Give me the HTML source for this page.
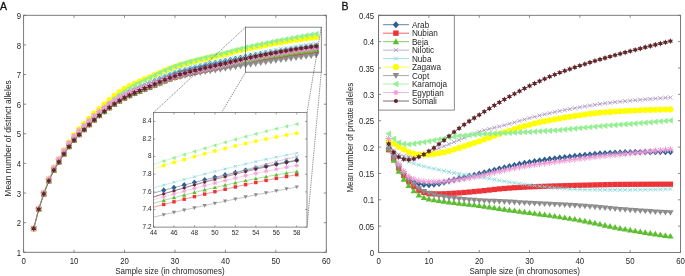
<!DOCTYPE html>
<html><head><meta charset="utf-8"><title>Allele rarefaction</title>
<style>html,body{margin:0;padding:0;background:#fff;}body{width:685px;height:276px;overflow:hidden;font-family:"Liberation Sans",sans-serif;}svg{display:block;will-change:transform;}</style>
</head><body>
<svg width="685" height="276" viewBox="0 0 685 276" font-family="Liberation Sans, sans-serif"><defs><clipPath id="clipI"><rect x="153.5" y="108.6" width="153.5" height="122.5"/></clipPath><marker id="aArab" markerUnits="userSpaceOnUse" markerWidth="20" markerHeight="20" refX="0" refY="0" viewBox="-10 -10 20 20" overflow="visible"><path d="M0,-3.46 L3.04,0 L0,3.46 L-3.04,0Z" fill="#2d5f8f"/></marker>
<marker id="aNubian" markerUnits="userSpaceOnUse" markerWidth="20" markerHeight="20" refX="0" refY="0" viewBox="-10 -10 20 20" overflow="visible"><rect x="-2.62" y="-2.62" width="5.25" height="5.25" fill="#ec3338"/></marker>
<marker id="aBeja" markerUnits="userSpaceOnUse" markerWidth="20" markerHeight="20" refX="0" refY="0" viewBox="-10 -10 20 20" overflow="visible"><path d="M0,-3.2 L3.2,2.4 L-3.2,2.4Z" fill="#5bbd2f"/></marker>
<marker id="aNilotic" markerUnits="userSpaceOnUse" markerWidth="20" markerHeight="20" refX="0" refY="0" viewBox="-10 -10 20 20" overflow="visible"><path d="M-1.98,-1.98 L1.98,1.98 M-1.98,1.98 L1.98,-1.98" stroke="#a992bd" stroke-width="0.83"/></marker>
<marker id="aNuba" markerUnits="userSpaceOnUse" markerWidth="20" markerHeight="20" refX="0" refY="0" viewBox="-10 -10 20 20" overflow="visible"><path d="M-1.98,-1.98 L1.98,1.98 M-1.98,1.98 L1.98,-1.98" stroke="#86d6d6" stroke-width="0.83"/></marker>
<marker id="aZagawa" markerUnits="userSpaceOnUse" markerWidth="20" markerHeight="20" refX="0" refY="0" viewBox="-10 -10 20 20" overflow="visible"><circle r="3.04" fill="#ffff00"/></marker>
<marker id="aCopt" markerUnits="userSpaceOnUse" markerWidth="20" markerHeight="20" refX="0" refY="0" viewBox="-10 -10 20 20" overflow="visible"><path d="M0,3.2 L3.2,-2.4 L-3.2,-2.4Z" fill="#8c8c8c"/></marker>
<marker id="aKaramoja" markerUnits="userSpaceOnUse" markerWidth="20" markerHeight="20" refX="0" refY="0" viewBox="-10 -10 20 20" overflow="visible"><path d="M-3.2,0 L2.4,-3.2 L2.4,3.2Z" fill="#92f092"/></marker>
<marker id="aEgyptian" markerUnits="userSpaceOnUse" markerWidth="20" markerHeight="20" refX="0" refY="0" viewBox="-10 -10 20 20" overflow="visible"><path d="M0,-2.88 V2.88 M-2.88,0 H2.88 M-2.04,-2.04 L2.04,2.04 M-2.04,2.04 L2.04,-2.04" stroke="#ee9cd6" stroke-width="1.15" stroke-linecap="round"/></marker>
<marker id="aSomali" markerUnits="userSpaceOnUse" markerWidth="20" markerHeight="20" refX="0" refY="0" viewBox="-10 -10 20 20" overflow="visible"><path d="M0,-2.94 L0.8,-1.39 L2.55,-1.47 L1.6,0 L2.55,1.47 L0.8,1.39 L0,2.94 L-0.8,1.39 L-2.55,1.47 L-1.6,0 L-2.55,-1.47 L-0.8,-1.39Z" fill="#60252a"/></marker>
<marker id="iArab" markerUnits="userSpaceOnUse" markerWidth="20" markerHeight="20" refX="0" refY="0" viewBox="-10 -10 20 20" overflow="visible"><path d="M0,-2.92 L2.56,0 L0,2.92 L-2.56,0Z" fill="#2d5f8f"/></marker>
<marker id="iNubian" markerUnits="userSpaceOnUse" markerWidth="20" markerHeight="20" refX="0" refY="0" viewBox="-10 -10 20 20" overflow="visible"><rect x="-1.72" y="-1.72" width="3.44" height="3.44" fill="#ec3338"/></marker>
<marker id="iBeja" markerUnits="userSpaceOnUse" markerWidth="20" markerHeight="20" refX="0" refY="0" viewBox="-10 -10 20 20" overflow="visible"><path d="M0,-2.1 L2.1,1.58 L-2.1,1.58Z" fill="#5bbd2f"/></marker>
<marker id="iNilotic" markerUnits="userSpaceOnUse" markerWidth="20" markerHeight="20" refX="0" refY="0" viewBox="-10 -10 20 20" overflow="visible"><path d="M-1.36,-1.36 L1.36,1.36 M-1.36,1.36 L1.36,-1.36" stroke="#a992bd" stroke-width="0.85"/></marker>
<marker id="iNuba" markerUnits="userSpaceOnUse" markerWidth="20" markerHeight="20" refX="0" refY="0" viewBox="-10 -10 20 20" overflow="visible"><path d="M-1.36,-1.36 L1.36,1.36 M-1.36,1.36 L1.36,-1.36" stroke="#86d6d6" stroke-width="0.85"/></marker>
<marker id="iZagawa" markerUnits="userSpaceOnUse" markerWidth="20" markerHeight="20" refX="0" refY="0" viewBox="-10 -10 20 20" overflow="visible"><circle r="1.99" fill="#ffff00"/></marker>
<marker id="iCopt" markerUnits="userSpaceOnUse" markerWidth="20" markerHeight="20" refX="0" refY="0" viewBox="-10 -10 20 20" overflow="visible"><path d="M0,2.1 L2.1,-1.58 L-2.1,-1.58Z" fill="#8c8c8c"/></marker>
<marker id="iKaramoja" markerUnits="userSpaceOnUse" markerWidth="20" markerHeight="20" refX="0" refY="0" viewBox="-10 -10 20 20" overflow="visible"><path d="M-2.1,0 L1.58,-2.1 L1.58,2.1Z" fill="#92f092"/></marker>
<marker id="iEgyptian" markerUnits="userSpaceOnUse" markerWidth="20" markerHeight="20" refX="0" refY="0" viewBox="-10 -10 20 20" overflow="visible"><path d="M0,-1.89 V1.89 M-1.89,0 H1.89 M-1.34,-1.34 L1.34,1.34 M-1.34,1.34 L1.34,-1.34" stroke="#ee9cd6" stroke-width="0.85" stroke-linecap="round"/></marker>
<marker id="iSomali" markerUnits="userSpaceOnUse" markerWidth="20" markerHeight="20" refX="0" refY="0" viewBox="-10 -10 20 20" overflow="visible"><path d="M0,-2.02 L0.55,-0.95 L1.75,-1.01 L1.1,0 L1.75,1.01 L0.55,0.95 L0,2.02 L-0.55,0.95 L-1.75,1.01 L-1.1,0 L-1.75,-1.01 L-0.55,-0.95Z" fill="#60252a"/></marker>
<marker id="bArab" markerUnits="userSpaceOnUse" markerWidth="20" markerHeight="20" refX="0" refY="0" viewBox="-10 -10 20 20" overflow="visible"><path d="M0,-3.46 L3.04,0 L0,3.46 L-3.04,0Z" fill="#2d5f8f"/></marker>
<marker id="bNubian" markerUnits="userSpaceOnUse" markerWidth="20" markerHeight="20" refX="0" refY="0" viewBox="-10 -10 20 20" overflow="visible"><rect x="-2.62" y="-2.62" width="5.25" height="5.25" fill="#ec3338"/></marker>
<marker id="bBeja" markerUnits="userSpaceOnUse" markerWidth="20" markerHeight="20" refX="0" refY="0" viewBox="-10 -10 20 20" overflow="visible"><path d="M0,-3.2 L3.2,2.4 L-3.2,2.4Z" fill="#5bbd2f"/></marker>
<marker id="bNilotic" markerUnits="userSpaceOnUse" markerWidth="20" markerHeight="20" refX="0" refY="0" viewBox="-10 -10 20 20" overflow="visible"><path d="M-1.98,-1.98 L1.98,1.98 M-1.98,1.98 L1.98,-1.98" stroke="#a992bd" stroke-width="0.83"/></marker>
<marker id="bNuba" markerUnits="userSpaceOnUse" markerWidth="20" markerHeight="20" refX="0" refY="0" viewBox="-10 -10 20 20" overflow="visible"><path d="M-1.98,-1.98 L1.98,1.98 M-1.98,1.98 L1.98,-1.98" stroke="#86d6d6" stroke-width="0.83"/></marker>
<marker id="bZagawa" markerUnits="userSpaceOnUse" markerWidth="20" markerHeight="20" refX="0" refY="0" viewBox="-10 -10 20 20" overflow="visible"><circle r="3.04" fill="#ffff00"/></marker>
<marker id="bCopt" markerUnits="userSpaceOnUse" markerWidth="20" markerHeight="20" refX="0" refY="0" viewBox="-10 -10 20 20" overflow="visible"><path d="M0,3.2 L3.2,-2.4 L-3.2,-2.4Z" fill="#8c8c8c"/></marker>
<marker id="bKaramoja" markerUnits="userSpaceOnUse" markerWidth="20" markerHeight="20" refX="0" refY="0" viewBox="-10 -10 20 20" overflow="visible"><path d="M-3.2,0 L2.4,-3.2 L2.4,3.2Z" fill="#92f092"/></marker>
<marker id="bEgyptian" markerUnits="userSpaceOnUse" markerWidth="20" markerHeight="20" refX="0" refY="0" viewBox="-10 -10 20 20" overflow="visible"><path d="M0,-2.88 V2.88 M-2.88,0 H2.88 M-2.04,-2.04 L2.04,2.04 M-2.04,2.04 L2.04,-2.04" stroke="#ee9cd6" stroke-width="1" stroke-linecap="round"/></marker>
<marker id="bSomali" markerUnits="userSpaceOnUse" markerWidth="20" markerHeight="20" refX="0" refY="0" viewBox="-10 -10 20 20" overflow="visible"><path d="M0,-2.94 L0.8,-1.39 L2.55,-1.47 L1.6,0 L2.55,1.47 L0.8,1.39 L0,2.94 L-0.8,1.39 L-2.55,1.47 L-1.6,0 L-2.55,-1.47 L-0.8,-1.39Z" fill="#60252a"/></marker>
<marker id="lArab" markerUnits="userSpaceOnUse" markerWidth="20" markerHeight="20" refX="0" refY="0" viewBox="-10 -10 20 20" overflow="visible"><path d="M0,-3.56 L3.13,0 L0,3.56 L-3.13,0Z" fill="#2d5f8f"/></marker>
<marker id="lNubian" markerUnits="userSpaceOnUse" markerWidth="20" markerHeight="20" refX="0" refY="0" viewBox="-10 -10 20 20" overflow="visible"><rect x="-2.71" y="-2.71" width="5.41" height="5.41" fill="#ec3338"/></marker>
<marker id="lBeja" markerUnits="userSpaceOnUse" markerWidth="20" markerHeight="20" refX="0" refY="0" viewBox="-10 -10 20 20" overflow="visible"><path d="M0,-3.3 L3.3,2.47 L-3.3,2.47Z" fill="#5bbd2f"/></marker>
<marker id="lNilotic" markerUnits="userSpaceOnUse" markerWidth="20" markerHeight="20" refX="0" refY="0" viewBox="-10 -10 20 20" overflow="visible"><path d="M-2.05,-2.05 L2.05,2.05 M-2.05,2.05 L2.05,-2.05" stroke="#a992bd" stroke-width="0.86"/></marker>
<marker id="lNuba" markerUnits="userSpaceOnUse" markerWidth="20" markerHeight="20" refX="0" refY="0" viewBox="-10 -10 20 20" overflow="visible"><path d="M-2.05,-2.05 L2.05,2.05 M-2.05,2.05 L2.05,-2.05" stroke="#86d6d6" stroke-width="0.86"/></marker>
<marker id="lZagawa" markerUnits="userSpaceOnUse" markerWidth="20" markerHeight="20" refX="0" refY="0" viewBox="-10 -10 20 20" overflow="visible"><circle r="3.13" fill="#ffff00"/></marker>
<marker id="lCopt" markerUnits="userSpaceOnUse" markerWidth="20" markerHeight="20" refX="0" refY="0" viewBox="-10 -10 20 20" overflow="visible"><path d="M0,3.3 L3.3,-2.47 L-3.3,-2.47Z" fill="#8c8c8c"/></marker>
<marker id="lKaramoja" markerUnits="userSpaceOnUse" markerWidth="20" markerHeight="20" refX="0" refY="0" viewBox="-10 -10 20 20" overflow="visible"><path d="M-3.3,0 L2.47,-3.3 L2.47,3.3Z" fill="#92f092"/></marker>
<marker id="lEgyptian" markerUnits="userSpaceOnUse" markerWidth="20" markerHeight="20" refX="0" refY="0" viewBox="-10 -10 20 20" overflow="visible"><path d="M0,-2.25 V2.25 M-2.25,0 H2.25 M-1.59,-1.59 L1.59,1.59 M-1.59,1.59 L1.59,-1.59" stroke="#ee9cd6" stroke-width="1.1" stroke-linecap="round"/></marker>
<marker id="lSomali" markerUnits="userSpaceOnUse" markerWidth="20" markerHeight="20" refX="0" refY="0" viewBox="-10 -10 20 20" overflow="visible"><circle r="2.05" fill="#60252a"/></marker></defs>
<polyline points="33.69,228.6 38.73,209.08 43.78,193.44 48.83,180.19 53.87,169.2 58.92,160.91 63.96,152.79 69,145.33 74.05,138.66 79.09,133.11 84.14,128.03 89.19,122.89 94.23,117.89 99.28,113.3 104.32,109.1 109.37,105.1 114.41,101.37 119.46,97.97 124.5,94.99 129.54,92.4 134.59,90.08 139.63,87.93 144.68,85.85 149.72,83.73 154.77,81.53 159.81,79.31 164.86,77.15 169.9,75.14 174.95,73.37 179.99,71.82 185.04,70.4 190.09,69.09 195.13,67.87 200.17,66.73 205.22,65.63 210.26,64.57 215.31,63.52 220.35,62.46 225.4,61.37 230.44,60.27 235.49,59.2 240.53,58.16 245.58,57.18 250.62,56.24 255.67,55.34 260.71,54.46 265.76,53.59 270.81,52.73 275.85,51.9 280.89,51.08 285.94,50.29 290.99,49.52 296.03,48.78 301.08,48.07 306.12,47.38 311.16,46.73 316.21,46.11" fill="none" stroke="#2d5f8f" stroke-width="0.5" marker-start="url(#aArab)" marker-mid="url(#aArab)" marker-end="url(#aArab)"/>
<polyline points="33.69,228.6 38.73,209.34 43.78,193.94 48.83,180.9 53.87,170.09 58.92,161.94 63.96,153.94 69,146.59 74.05,140.02 79.09,134.59 84.14,129.66 89.19,124.71 94.23,119.92 99.28,115.56 104.32,111.57 109.37,107.78 114.41,104.24 119.46,100.99 124.5,98.1 129.54,95.58 134.59,93.33 139.63,91.25 144.68,89.25 149.72,87.23 154.77,85.12 159.81,82.99 164.86,80.93 169.9,79.03 174.95,77.36 179.99,75.92 185.04,74.6 190.09,73.38 195.13,72.25 200.17,71.18 205.22,70.15 210.26,69.15 215.31,68.16 220.35,67.15 225.4,66.11 230.44,65.04 235.49,63.98 240.53,62.94 245.58,61.95 250.62,61.01 255.67,60.12 260.71,59.24 265.76,58.38 270.81,57.53 275.85,56.71 280.89,55.9 285.94,55.12 290.99,54.36 296.03,53.63 301.08,52.92 306.12,52.25 311.16,51.61 316.21,51" fill="none" stroke="#ec3338" stroke-width="0.5" marker-start="url(#aNubian)" marker-mid="url(#aNubian)" marker-end="url(#aNubian)"/>
<polyline points="33.69,228.6 38.73,209.34 43.78,193.94 48.83,180.9 53.87,170.09 58.92,161.94 63.96,153.94 69,146.59 74.05,140.02 79.09,134.59 84.14,129.66 89.19,124.69 94.23,119.89 99.28,115.51 104.32,111.51 109.37,107.7 114.41,104.13 119.46,100.87 124.5,97.95 129.54,95.41 134.59,93.14 139.63,91.04 144.68,89.01 149.72,86.96 154.77,84.82 159.81,82.66 164.86,80.56 169.9,78.62 174.95,76.92 179.99,75.43 185.04,74.06 190.09,72.79 195.13,71.6 200.17,70.47 205.22,69.38 210.26,68.31 215.31,67.25 220.35,66.18 225.4,65.07 230.44,63.93 235.49,62.79 240.53,61.68 245.58,60.62 250.62,59.65 255.67,58.74 260.71,57.84 265.76,56.97 270.81,56.13 275.85,55.3 280.89,54.51 285.94,53.75 290.99,53.02 296.03,52.32 301.08,51.67 306.12,51.06 311.16,50.49 316.21,49.96" fill="none" stroke="#5bbd2f" stroke-width="0.5" marker-start="url(#aBeja)" marker-mid="url(#aBeja)" marker-end="url(#aBeja)"/>
<polyline points="33.69,228.6 38.73,209.25 43.78,193.74 48.83,180.62 53.87,169.72 58.92,161.5 63.96,153.44 69,146.04 74.05,139.44 79.09,134 84.14,129.06 89.19,124.08 94.23,119.25 99.28,114.84 104.32,110.8 109.37,106.95 114.41,103.33 119.46,100.02 124.5,97.07 129.54,94.48 134.59,92.18 139.63,90.05 144.68,88 149.72,85.93 154.77,83.77 159.81,81.59 164.86,79.46 169.9,77.48 174.95,75.74 179.99,74.19 185.04,72.76 190.09,71.42 195.13,70.16 200.17,68.95 205.22,67.78 210.26,66.64 215.31,65.5 220.35,64.35 225.4,63.17 230.44,61.96 235.49,60.75 240.53,59.56 245.58,58.43 250.62,57.37 255.67,56.35 260.71,55.33 265.76,54.3 270.81,53.29 275.85,52.27 280.89,51.27 285.94,50.29 290.99,49.32 296.03,48.38 301.08,47.46 306.12,46.58 311.16,45.73 316.21,44.92" fill="none" stroke="#a992bd" stroke-width="0.5" marker-start="url(#aNilotic)" marker-mid="url(#aNilotic)" marker-end="url(#aNilotic)"/>
<polyline points="33.69,228.6 38.73,209.03 43.78,193.32 48.83,179.99 53.87,168.91 58.92,160.5 63.96,152.26 69,144.68 74.05,137.88 79.09,132.22 84.14,127.03 89.19,121.78 94.23,116.66 99.28,111.96 104.32,107.65 109.37,103.55 114.41,99.73 119.46,96.26 124.5,93.21 129.54,90.57 134.59,88.2 139.63,86.01 144.68,83.89 149.72,81.74 154.77,79.51 159.81,77.26 164.86,75.09 169.9,73.07 174.95,71.29 179.99,69.74 185.04,68.33 190.09,67.03 195.13,65.83 200.17,64.7 205.22,63.62 210.26,62.58 215.31,61.55 220.35,60.51 225.4,59.44 230.44,58.38 235.49,57.37 240.53,56.4 245.58,55.44 250.62,54.49 255.67,53.55 260.71,52.61 265.76,51.69 270.81,50.79 275.85,49.9 280.89,49.04 285.94,48.2 290.99,47.38 296.03,46.59 301.08,45.82 306.12,45.1 311.16,44.4 316.21,43.74" fill="none" stroke="#86d6d6" stroke-width="0.5" marker-start="url(#aNuba)" marker-mid="url(#aNuba)" marker-end="url(#aNuba)"/>
<polyline points="33.69,228.6 38.73,208.87 43.78,192.96 48.83,179.39 53.87,168.02 58.92,159.23 63.96,150.5 69,142.42 74.05,135.19 79.09,129.26 84.14,123.98 89.19,118.73 94.23,113.64 99.28,108.92 104.32,104.41 109.37,99.97 114.41,95.76 119.46,91.97 124.5,88.77 129.54,86.1 134.59,83.7 139.63,81.48 144.68,79.34 149.72,77.18 154.77,74.94 159.81,72.68 164.86,70.5 169.9,68.47 174.95,66.7 179.99,65.14 185.04,63.69 190.09,62.33 195.13,61.04 200.17,59.82 205.22,58.63 210.26,57.47 215.31,56.32 220.35,55.15 225.4,53.96 230.44,52.74 235.49,51.52 240.53,50.27 245.58,49.01 250.62,47.89 255.67,46.88 260.71,45.89 265.76,44.92 270.81,43.97 275.85,43.05 280.89,42.16 285.94,41.31 290.99,40.49 296.03,39.71 301.08,38.98 306.12,38.29 311.16,37.65 316.21,37.07" fill="none" stroke="#ffff00" stroke-width="0.5" marker-start="url(#aZagawa)" marker-mid="url(#aZagawa)" marker-end="url(#aZagawa)"/>
<polyline points="33.69,228.6 38.73,209.34 43.78,193.94 48.83,180.9 53.87,170.09 58.92,161.94 63.96,153.94 69,146.59 74.05,140.02 79.09,134.59 84.14,129.66 89.19,124.72 94.23,119.94 99.28,115.59 104.32,111.63 109.37,107.86 114.41,104.34 119.46,101.12 124.5,98.25 129.54,95.75 134.59,93.54 139.63,91.51 144.68,89.56 149.72,87.59 154.77,85.53 159.81,83.47 164.86,81.48 169.9,79.66 174.95,78.11 179.99,76.79 185.04,75.62 190.09,74.57 195.13,73.61 200.17,72.71 205.22,71.86 210.26,71.05 215.31,70.26 220.35,69.46 225.4,68.62 230.44,67.77 235.49,66.93 240.53,66.1 245.58,65.28 250.62,64.48 255.67,63.68 260.71,62.9 265.76,62.14 270.81,61.38 275.85,60.64 280.89,59.91 285.94,59.19 290.99,58.49 296.03,57.79 301.08,57.11 306.12,56.44 311.16,55.79 316.21,55.15" fill="none" stroke="#8c8c8c" stroke-width="0.5" marker-start="url(#aCopt)" marker-mid="url(#aCopt)" marker-end="url(#aCopt)"/>
<polyline points="33.69,228.6 38.73,208.95 43.78,193.16 48.83,179.76 53.87,168.61 58.92,160.14 63.96,151.83 69,144.18 74.05,137.32 79.09,131.63 84.14,126.47 89.19,121.29 94.23,116.26 99.28,111.58 104.32,107.14 109.37,102.75 114.41,98.53 119.46,94.62 124.5,91.14 129.54,88.08 134.59,85.31 139.63,82.73 144.68,80.25 149.72,77.81 154.77,75.31 159.81,72.81 164.86,70.41 169.9,68.19 174.95,66.25 179.99,64.57 185.04,63 190.09,61.54 195.13,60.16 200.17,58.85 205.22,57.59 210.26,56.36 215.31,55.13 220.35,53.9 225.4,52.63 230.44,51.34 235.49,50.04 240.53,48.77 245.58,47.55 250.62,46.41 255.67,45.31 260.71,44.24 265.76,43.17 270.81,42.13 275.85,41.11 280.89,40.11 285.94,39.13 290.99,38.19 296.03,37.27 301.08,36.39 306.12,35.54 311.16,34.73 316.21,33.96" fill="none" stroke="#92f092" stroke-width="0.5" marker-start="url(#aKaramoja)" marker-mid="url(#aKaramoja)" marker-end="url(#aKaramoja)"/>
<polyline points="33.69,228.6 38.73,208.64 43.78,192.59 48.83,178.99 53.87,167.72 58.92,159.16 63.96,150.77 69,143.07 74.05,136.26 79.09,130.74 84.14,125.8 89.19,120.82 94.23,115.99 99.28,111.58 104.32,107.6 109.37,103.89 114.41,100.49 119.46,97.42 124.5,94.7 129.54,92.35 134.59,90.32 139.63,88.48 144.68,86.72 149.72,84.92 154.77,83.03 159.81,81.15 164.86,79.31 169.9,77.59 174.95,76.03 179.99,74.63 185.04,73.32 190.09,72.08 195.13,70.89 200.17,69.74 205.22,68.62 210.26,67.5 215.31,66.39 220.35,65.26 225.4,64.1 230.44,62.91 235.49,61.72 240.53,60.56 245.58,59.46 250.62,58.43 255.67,57.47 260.71,56.52 265.76,55.6 270.81,54.69 275.85,53.81 280.89,52.95 285.94,52.12 290.99,51.32 296.03,50.56 301.08,49.83 306.12,49.14 311.16,48.49 316.21,47.89" fill="none" stroke="#ee9cd6" stroke-width="0.5" marker-start="url(#aEgyptian)" marker-mid="url(#aEgyptian)" marker-end="url(#aEgyptian)"/>
<polyline points="33.69,228.6 38.73,209.34 43.78,193.94 48.83,180.9 53.87,170.09 58.92,161.94 63.96,153.94 69,146.59 74.05,140.02 79.09,134.59 84.14,129.65 89.19,124.67 94.23,119.84 99.28,115.43 104.32,111.39 109.37,107.54 114.41,103.93 119.46,100.61 124.5,97.66 129.54,95.07 134.59,92.75 139.63,90.59 144.68,88.51 149.72,86.4 154.77,84.2 159.81,81.97 164.86,79.81 169.9,77.8 174.95,76.03 179.99,74.47 185.04,73.02 190.09,71.66 195.13,70.38 200.17,69.15 205.22,67.97 210.26,66.8 215.31,65.65 220.35,64.49 225.4,63.29 230.44,62.07 235.49,60.85 240.53,59.66 245.58,58.52 250.62,57.46 255.67,56.45 260.71,55.46 265.76,54.48 270.81,53.53 275.85,52.6 280.89,51.69 285.94,50.81 290.99,49.97 296.03,49.15 301.08,48.37 306.12,47.62 311.16,46.92 316.21,46.26" fill="none" stroke="#4d3d3f" stroke-width="0.5" marker-start="url(#aSomali)" marker-mid="url(#aSomali)" marker-end="url(#aSomali)"/>
<rect x="23.6" y="15.3" width="302.7" height="237" fill="none" stroke="#6e6e6e" stroke-width="0.9"/>
<path d="M23.6,252.3v-2.5M23.6,15.3v2.5M74.05,252.3v-2.5M74.05,15.3v2.5M124.5,252.3v-2.5M124.5,15.3v2.5M174.95,252.3v-2.5M174.95,15.3v2.5M225.4,252.3v-2.5M225.4,15.3v2.5M275.85,252.3v-2.5M275.85,15.3v2.5M326.3,252.3v-2.5M326.3,15.3v2.5M23.6,252.3h2.5M326.3,252.3h-2.5M23.6,222.68h2.5M326.3,222.68h-2.5M23.6,193.05h2.5M326.3,193.05h-2.5M23.6,163.43h2.5M326.3,163.43h-2.5M23.6,133.8h2.5M326.3,133.8h-2.5M23.6,104.18h2.5M326.3,104.18h-2.5M23.6,74.55h2.5M326.3,74.55h-2.5M23.6,44.93h2.5M326.3,44.93h-2.5M23.6,15.3h2.5M326.3,15.3h-2.5" stroke="#6e6e6e" stroke-width="0.8" fill="none"/>
<g fill="#262626"><text transform="translate(23.6,264) scale(0.93,1)" text-anchor="middle" font-size="8.4">0</text><text transform="translate(74.05,264) scale(0.93,1)" text-anchor="middle" font-size="8.4">10</text><text transform="translate(124.5,264) scale(0.93,1)" text-anchor="middle" font-size="8.4">20</text><text transform="translate(174.95,264) scale(0.93,1)" text-anchor="middle" font-size="8.4">30</text><text transform="translate(225.4,264) scale(0.93,1)" text-anchor="middle" font-size="8.4">40</text><text transform="translate(275.85,264) scale(0.93,1)" text-anchor="middle" font-size="8.4">50</text><text transform="translate(326.3,264) scale(0.93,1)" text-anchor="middle" font-size="8.4">60</text><text transform="translate(21,255.9) scale(0.93,1)" text-anchor="end" font-size="8.4">1</text><text transform="translate(21,226.28) scale(0.93,1)" text-anchor="end" font-size="8.4">2</text><text transform="translate(21,196.65) scale(0.93,1)" text-anchor="end" font-size="8.4">3</text><text transform="translate(21,167.03) scale(0.93,1)" text-anchor="end" font-size="8.4">4</text><text transform="translate(21,137.4) scale(0.93,1)" text-anchor="end" font-size="8.4">5</text><text transform="translate(21,107.78) scale(0.93,1)" text-anchor="end" font-size="8.4">6</text><text transform="translate(21,78.15) scale(0.93,1)" text-anchor="end" font-size="8.4">7</text><text transform="translate(21,48.53) scale(0.93,1)" text-anchor="end" font-size="8.4">8</text><text transform="translate(21,18.9) scale(0.93,1)" text-anchor="end" font-size="8.4">9</text></g>
<rect x="245.58" y="27.15" width="75.68" height="45.03" fill="none" stroke="#555" stroke-width="0.7"/>
<path d="M245.58,27.15L153.5,112.6M245.58,72.18L153.5,227.1M321.25,27.15L307,112.6M321.25,72.18L307,227.1" stroke="#333" stroke-width="0.55" stroke-dasharray="1.4,0.9" fill="none"/>
<rect x="153.5" y="112.6" width="153.5" height="114.5" fill="#fff"/>
<g clip-path="url(#clipI)">
<polyline points="153.5,193.06 163.73,190.28 173.97,187.61 184.2,184.98 194.43,182.39 204.67,179.85 214.9,177.36 225.13,174.94 235.37,172.59 245.6,170.3 255.83,168.1 266.07,165.98 276.3,163.94 286.53,162 296.77,160.16" fill="none" stroke="#2d5f8f" stroke-width="0.5" marker-mid="url(#iArab)" marker-end="url(#iArab)"/>
<polyline points="153.5,207.24 163.73,204.46 173.97,201.82 184.2,199.21 194.43,196.64 204.67,194.13 214.9,191.67 225.13,189.27 235.37,186.94 245.6,184.69 255.83,182.51 266.07,180.42 276.3,178.41 286.53,176.5 296.77,174.69" fill="none" stroke="#ec3338" stroke-width="0.5" marker-mid="url(#iNubian)" marker-end="url(#iNubian)"/>
<polyline points="153.5,203.3 163.73,200.41 173.97,197.7 184.2,195.05 194.43,192.46 204.67,189.94 214.9,187.49 225.13,185.13 235.37,182.87 245.6,180.7 255.83,178.64 266.07,176.69 276.3,174.86 286.53,173.17 296.77,171.61" fill="none" stroke="#5bbd2f" stroke-width="0.5" marker-mid="url(#iBeja)" marker-end="url(#iBeja)"/>
<polyline points="153.5,196.78 163.73,193.63 173.97,190.61 184.2,187.57 194.43,184.53 204.67,181.49 214.9,178.49 225.13,175.51 235.37,172.58 245.6,169.71 255.83,166.91 266.07,164.19 276.3,161.56 286.53,159.04 296.77,156.64" fill="none" stroke="#a992bd" stroke-width="0.5" marker-mid="url(#iNilotic)" marker-end="url(#iNilotic)"/>
<polyline points="153.5,187.91 163.73,185.09 173.97,182.28 184.2,179.5 194.43,176.76 204.67,174.08 214.9,171.44 225.13,168.87 235.37,166.36 245.6,163.93 255.83,161.58 266.07,159.31 276.3,157.14 286.53,155.08 296.77,153.12" fill="none" stroke="#86d6d6" stroke-width="0.5" marker-mid="url(#iNuba)" marker-end="url(#iNuba)"/>
<polyline points="153.5,168.79 163.73,165.45 173.97,162.45 184.2,159.51 194.43,156.62 204.67,153.81 214.9,151.07 225.13,148.42 235.37,145.88 245.6,143.44 255.83,141.13 266.07,138.95 276.3,136.91 286.53,135.02 296.77,133.3" fill="none" stroke="#ffff00" stroke-width="0.5" marker-mid="url(#iZagawa)" marker-end="url(#iZagawa)"/>
<polyline points="153.5,217.16 163.73,214.77 173.97,212.41 184.2,210.09 194.43,207.81 204.67,205.56 214.9,203.35 225.13,201.18 235.37,199.05 245.6,196.95 255.83,194.89 266.07,192.87 276.3,190.89 286.53,188.94 296.77,187.02" fill="none" stroke="#8c8c8c" stroke-width="0.5" marker-mid="url(#iCopt)" marker-end="url(#iCopt)"/>
<polyline points="153.5,164.44 163.73,161.04 173.97,157.79 184.2,154.59 194.43,151.43 204.67,148.33 214.9,145.29 225.13,142.32 235.37,139.42 245.6,136.61 255.83,133.89 266.07,131.27 276.3,128.75 286.53,126.34 296.77,124.05" fill="none" stroke="#92f092" stroke-width="0.5" marker-mid="url(#iKaramoja)" marker-end="url(#iKaramoja)"/>
<polyline points="153.5,199.84 163.73,196.8 173.97,193.94 184.2,191.12 194.43,188.36 204.67,185.67 214.9,183.04 225.13,180.5 235.37,178.04 245.6,175.66 255.83,173.39 266.07,171.23 276.3,169.18 286.53,167.25 296.77,165.45" fill="none" stroke="#ee9cd6" stroke-width="0.5" marker-mid="url(#iEgyptian)" marker-end="url(#iEgyptian)"/>
<polyline points="153.5,197.05 163.73,193.9 173.97,190.9 184.2,187.95 194.43,185.06 204.67,182.22 214.9,179.45 225.13,176.76 235.37,174.15 245.6,171.63 255.83,169.2 266.07,166.88 276.3,164.67 286.53,162.57 296.77,160.6" fill="none" stroke="#60252a" stroke-width="0.5" marker-mid="url(#iSomali)" marker-end="url(#iSomali)"/>
</g>
<rect x="153.5" y="112.6" width="153.5" height="114.5" fill="none" stroke="#6e6e6e" stroke-width="0.8"/>
<path d="M153.5,227.1v-1.8M153.5,112.6v1.8M173.97,227.1v-1.8M173.97,112.6v1.8M194.43,227.1v-1.8M194.43,112.6v1.8M214.9,227.1v-1.8M214.9,112.6v1.8M235.37,227.1v-1.8M235.37,112.6v1.8M255.83,227.1v-1.8M255.83,112.6v1.8M276.3,227.1v-1.8M276.3,112.6v1.8M296.77,227.1v-1.8M296.77,112.6v1.8M153.5,227.1h1.8M307,227.1h-1.8M153.5,209.48h1.8M307,209.48h-1.8M153.5,191.87h1.8M307,191.87h-1.8M153.5,174.25h1.8M307,174.25h-1.8M153.5,156.64h1.8M307,156.64h-1.8M153.5,139.02h1.8M307,139.02h-1.8M153.5,121.41h1.8M307,121.41h-1.8" stroke="#6e6e6e" stroke-width="0.7" fill="none"/>
<g fill="#262626"><text transform="translate(153.5,235.3) scale(0.92,1)" text-anchor="middle" font-size="7.0">44</text><text transform="translate(173.97,235.3) scale(0.92,1)" text-anchor="middle" font-size="7.0">46</text><text transform="translate(194.43,235.3) scale(0.92,1)" text-anchor="middle" font-size="7.0">48</text><text transform="translate(214.9,235.3) scale(0.92,1)" text-anchor="middle" font-size="7.0">50</text><text transform="translate(235.37,235.3) scale(0.92,1)" text-anchor="middle" font-size="7.0">52</text><text transform="translate(255.83,235.3) scale(0.92,1)" text-anchor="middle" font-size="7.0">54</text><text transform="translate(276.3,235.3) scale(0.92,1)" text-anchor="middle" font-size="7.0">56</text><text transform="translate(296.77,235.3) scale(0.92,1)" text-anchor="middle" font-size="7.0">58</text><text transform="translate(151.5,228.8) scale(0.92,1)" text-anchor="end" font-size="7.0">7.2</text><text transform="translate(151.5,211.18) scale(0.92,1)" text-anchor="end" font-size="7.0">7.4</text><text transform="translate(151.5,193.57) scale(0.92,1)" text-anchor="end" font-size="7.0">7.6</text><text transform="translate(151.5,175.95) scale(0.92,1)" text-anchor="end" font-size="7.0">7.8</text><text transform="translate(151.5,158.34) scale(0.92,1)" text-anchor="end" font-size="7.0">8</text><text transform="translate(151.5,140.72) scale(0.92,1)" text-anchor="end" font-size="7.0">8.2</text><text transform="translate(151.5,123.11) scale(0.92,1)" text-anchor="end" font-size="7.0">8.4</text></g>
<text x="170" y="274" font-size="8.2" text-anchor="middle" textLength="109.4" lengthAdjust="spacingAndGlyphs" fill="#262626">Sample size (in chromosomes)</text>
<text transform="translate(10.9,138.4) rotate(-90)" font-size="8.4" text-anchor="middle" textLength="116.5" lengthAdjust="spacingAndGlyphs" fill="#262626">Mean number of distinct alleles</text>
<text x="0.1" y="9.9" font-size="10.5" fill="#111" stroke="#111" stroke-width="0.3">A</text>
<polyline points="388.66,148.13 393.7,156.57 398.73,166.58 403.76,173.43 408.79,178.7 413.82,181.87 418.85,183.45 423.88,184.5 428.92,184.77 433.95,184.32 438.98,183.45 444.01,182.38 449.04,181.06 454.08,179.76 459.11,178.58 464.14,177.44 469.17,176.3 474.2,175.15 479.23,173.96 484.26,172.71 489.3,171.41 494.33,170.11 499.36,168.84 504.39,167.64 509.42,166.49 514.46,165.37 519.49,164.29 524.52,163.28 529.55,162.36 534.58,161.53 539.61,160.75 544.64,160.02 549.68,159.33 554.71,158.67 559.74,158.04 564.77,157.44 569.8,156.86 574.84,156.31 579.87,155.78 584.9,155.24 589.93,154.7 594.96,154.2 599.99,153.75 605.02,153.4 610.06,153.12 615.09,152.87 620.12,152.66 625.15,152.48 630.18,152.35 635.22,152.25 640.25,152.15 645.28,152.06 650.31,151.98 655.34,151.91 660.37,151.86 665.4,151.83 670.44,151.82" fill="none" stroke="#2d5f8f" stroke-width="0.6" marker-start="url(#bArab)" marker-mid="url(#bArab)" marker-end="url(#bArab)"/>
<polyline points="388.66,149.71 393.7,158.67 398.73,168.16 403.76,175.54 408.79,181.87 413.82,186.61 418.85,190.3 423.88,192.41 428.92,193.73 433.95,193.85 438.98,193.89 444.01,193.77 449.04,193.51 454.08,193.2 459.11,192.87 464.14,192.47 469.17,192.03 474.2,191.56 479.23,191.09 484.26,190.58 489.3,190.02 494.33,189.44 499.36,188.91 504.39,188.46 509.42,188.07 514.46,187.72 519.49,187.41 524.52,187.12 529.55,186.87 534.58,186.66 539.61,186.47 544.64,186.29 549.68,186.13 554.71,185.97 559.74,185.82 564.77,185.67 569.8,185.53 574.84,185.4 579.87,185.27 584.9,185.15 589.93,185.03 594.96,184.91 599.99,184.78 605.02,184.65 610.06,184.54 615.09,184.45 620.12,184.4 625.15,184.36 630.18,184.33 635.22,184.3 640.25,184.27 645.28,184.25 650.31,184.22 655.34,184.21 660.37,184.2 665.4,184.19 670.44,184.19" fill="none" stroke="#ec3338" stroke-width="0.6" marker-start="url(#bNubian)" marker-mid="url(#bNubian)" marker-end="url(#bNubian)"/>
<polyline points="388.66,148.66 393.7,160.26 398.73,171.32 403.76,179.23 408.79,185.56 413.82,190.83 418.85,195.04 423.88,197.68 428.92,199 433.95,199.86 438.98,200.58 444.01,201.32 449.04,202.02 454.08,202.69 459.11,203.3 464.14,203.86 469.17,204.41 474.2,204.97 479.23,205.59 484.26,206.27 489.3,207.01 494.33,207.78 499.36,208.54 504.39,209.28 509.42,209.98 514.46,210.67 519.49,211.34 524.52,212.02 529.55,212.7 534.58,213.38 539.61,214.05 544.64,214.72 549.68,215.41 554.71,216.13 559.74,216.87 564.77,217.63 569.8,218.41 574.84,219.22 579.87,220.08 584.9,221.01 589.93,222.02 594.96,223.07 599.99,224.15 605.02,225.24 610.06,226.3 615.09,227.31 620.12,228.25 625.15,229.14 630.18,230.01 635.22,230.86 640.25,231.69 645.28,232.5 650.31,233.28 655.34,234.04 660.37,234.78 665.4,235.48 670.44,236.16" fill="none" stroke="#5bbd2f" stroke-width="0.6" marker-start="url(#bBeja)" marker-mid="url(#bBeja)" marker-end="url(#bBeja)"/>
<polyline points="388.66,145.5 393.7,150.77 398.73,154.46 403.76,156.04 408.79,156.57 413.82,156.57 418.85,155.51 423.88,154.06 428.92,152.35 433.95,150.45 438.98,148.38 444.01,146.29 449.04,144.19 454.08,142.07 459.11,139.96 464.14,137.82 469.17,135.65 474.2,133.59 479.23,131.79 484.26,130.29 489.3,128.97 494.33,127.73 499.36,126.51 504.39,125.2 509.42,123.8 514.46,122.34 519.49,120.88 524.52,119.45 529.55,118.09 534.58,116.79 539.61,115.52 544.64,114.3 549.68,113.13 554.71,112.02 559.74,110.99 564.77,110 569.8,109.06 574.84,108.16 579.87,107.28 584.9,106.42 589.93,105.57 594.96,104.76 599.99,104.01 605.02,103.33 610.06,102.72 615.09,102.16 620.12,101.65 625.15,101.16 630.18,100.69 635.22,100.24 640.25,99.8 645.28,99.38 650.31,98.97 655.34,98.58 660.37,98.21 665.4,97.86 670.44,97.53" fill="none" stroke="#a992bd" stroke-width="0.6" marker-start="url(#bNilotic)" marker-mid="url(#bNilotic)" marker-end="url(#bNilotic)"/>
<polyline points="388.66,147.08 393.7,152.35 398.73,156.57 403.76,159.54 408.79,161.84 413.82,163.55 418.85,165 423.88,166.38 428.92,167.64 433.95,168.72 438.98,169.74 444.01,170.83 449.04,171.91 454.08,172.91 459.11,173.77 464.14,174.55 469.17,175.3 474.2,176.06 479.23,176.86 484.26,177.73 489.3,178.65 494.33,179.58 499.36,180.49 504.39,181.34 509.42,182.14 514.46,182.93 519.49,183.68 524.52,184.38 529.55,185.03 534.58,185.63 539.61,186.19 544.64,186.72 549.68,187.21 554.71,187.67 559.74,188.12 564.77,188.59 569.8,189.01 574.84,189.33 579.87,189.51 584.9,189.59 589.93,189.67 594.96,189.73 599.99,189.78 605.02,189.82 610.06,189.85 615.09,189.87 620.12,189.88 625.15,189.87 630.18,189.84 635.22,189.79 640.25,189.72 645.28,189.64 650.31,189.54 655.34,189.42 660.37,189.29 665.4,189.14 670.44,188.98" fill="none" stroke="#86d6d6" stroke-width="0.6" marker-start="url(#bNuba)" marker-mid="url(#bNuba)" marker-end="url(#bNuba)"/>
<polyline points="388.66,141.81 393.7,143.76 398.73,146.66 403.76,149.45 408.79,152.09 413.82,153.82 418.85,154.56 423.88,154.53 428.92,154.46 433.95,154.08 438.98,153.31 444.01,152.35 449.04,151.04 454.08,149.45 459.11,147.9 464.14,146.3 469.17,144.66 474.2,142.98 479.23,141.28 484.26,139.52 489.3,137.69 494.33,135.84 499.36,134.03 504.39,132.32 509.42,130.67 514.46,129.04 519.49,127.47 524.52,126.01 529.55,124.68 534.58,123.48 539.61,122.37 544.64,121.34 549.68,120.35 554.71,119.4 559.74,118.48 564.77,117.58 569.8,116.72 574.84,115.92 579.87,115.19 584.9,114.51 589.93,113.87 594.96,113.27 599.99,112.74 605.02,112.29 610.06,111.9 615.09,111.54 620.12,111.23 625.15,110.95 630.18,110.71 635.22,110.49 640.25,110.28 645.28,110.08 650.31,109.9 655.34,109.73 660.37,109.59 665.4,109.48 670.44,109.39" fill="none" stroke="#ffff00" stroke-width="0.6" marker-start="url(#bZagawa)" marker-mid="url(#bZagawa)" marker-end="url(#bZagawa)"/>
<polyline points="388.66,149.19 393.7,157.62 398.73,166.58 403.76,173.43 408.79,179.76 413.82,184.5 418.85,188.72 423.88,191.36 428.92,193.2 433.95,194.81 438.98,196.1 444.01,196.99 449.04,197.68 454.08,198.29 459.11,198.85 464.14,199.37 469.17,199.84 474.2,200.24 479.23,200.58 484.26,200.85 489.3,201.07 494.33,201.26 499.36,201.46 504.39,201.69 509.42,201.95 514.46,202.24 519.49,202.54 524.52,202.83 529.55,203.11 534.58,203.37 539.61,203.62 544.64,203.87 549.68,204.11 554.71,204.37 559.74,204.64 564.77,204.91 569.8,205.18 574.84,205.48 579.87,205.8 584.9,206.16 589.93,206.57 594.96,207.01 599.99,207.46 605.02,207.91 610.06,208.37 615.09,208.84 620.12,209.28 625.15,209.67 630.18,210.05 635.22,210.43 640.25,210.79 645.28,211.14 650.31,211.47 655.34,211.78 660.37,212.08 665.4,212.35 670.44,212.6" fill="none" stroke="#8c8c8c" stroke-width="0.6" marker-start="url(#bCopt)" marker-mid="url(#bCopt)" marker-end="url(#bCopt)"/>
<polyline points="388.66,133.69 393.7,138.8 398.73,142.39 403.76,144.07 408.79,144.34 413.82,143.79 418.85,142.86 423.88,142.1 428.92,141.28 433.95,140.34 438.98,139.33 444.01,138.38 449.04,137.51 454.08,136.69 459.11,136.01 464.14,135.44 469.17,134.94 474.2,134.51 479.23,134.16 484.26,133.9 489.3,133.69 494.33,133.5 499.36,133.31 504.39,133.11 509.42,132.89 514.46,132.67 519.49,132.42 524.52,132.17 529.55,131.91 534.58,131.63 539.61,131.35 544.64,131.04 549.68,130.72 554.71,130.37 559.74,129.98 564.77,129.53 569.8,129.06 574.84,128.58 579.87,128.1 584.9,127.62 589.93,127.13 594.96,126.64 599.99,126.17 605.02,125.73 610.06,125.34 615.09,124.97 620.12,124.62 625.15,124.26 630.18,123.88 635.22,123.49 640.25,123.08 645.28,122.67 650.31,122.24 655.34,121.81 660.37,121.37 665.4,120.92 670.44,120.46" fill="none" stroke="#92f092" stroke-width="0.6" marker-start="url(#bKaramoja)" marker-mid="url(#bKaramoja)" marker-end="url(#bKaramoja)"/>
<polyline points="388.66,138.64 393.7,152.35 398.73,163.95 403.76,171.32 408.79,176.6 413.82,179.23 418.85,180.81 423.88,181.55 428.92,181.87 433.95,181.87 438.98,181.87 444.01,181.6 449.04,180.98 454.08,180.29 459.11,179.6 464.14,178.82 469.17,177.96 474.2,177.04 479.23,176.07 484.26,174.98 489.3,173.76 494.33,172.51 499.36,171.32 504.39,170.21 509.42,169.1 514.46,168.06 519.49,167.11 524.52,166.24 529.55,165.43 534.58,164.66 539.61,163.93 544.64,163.22 549.68,162.52 554.71,161.84 559.74,161.17 564.77,160.52 569.8,159.89 574.84,159.28 579.87,158.67 584.9,158.07 589.93,157.47 594.96,156.88 599.99,156.31 605.02,155.78 610.06,155.27 615.09,154.8 620.12,154.34 625.15,153.88 630.18,153.4 635.22,152.91 640.25,152.42 645.28,151.92 650.31,151.41 655.34,150.9 660.37,150.39 665.4,149.87 670.44,149.34" fill="none" stroke="#ee9cd6" stroke-width="0.6" marker-start="url(#bEgyptian)" marker-mid="url(#bEgyptian)" marker-end="url(#bEgyptian)"/>
<polyline points="388.66,143.92 393.7,152.35 398.73,157.09 403.76,159.2 408.79,159.73 413.82,158.94 418.85,156.83 423.88,154.46 428.92,151.19 433.95,147.87 438.98,144.07 444.01,140.28 449.04,136.15 454.08,132.06 459.11,128.29 464.14,124.69 469.17,121.25 474.2,118.01 479.23,114.87 484.26,111.69 489.3,108.55 494.33,105.46 499.36,102.42 504.39,99.48 509.42,96.63 514.46,93.83 519.49,91.1 524.52,88.46 529.55,85.93 534.58,83.49 539.61,81.13 544.64,78.85 549.68,76.66 554.71,74.6 559.74,72.65 564.77,70.8 569.8,69.02 574.84,67.31 579.87,65.64 584.9,64.02 589.93,62.45 594.96,60.93 599.99,59.45 605.02,58 610.06,56.57 615.09,55.17 620.12,53.81 625.15,52.47 630.18,51.14 635.22,49.84 640.25,48.54 645.28,47.26 650.31,46 655.34,44.76 660.37,43.53 665.4,42.32 670.44,41.13" fill="none" stroke="#4d3d3f" stroke-width="0.6" marker-start="url(#bSomali)" marker-mid="url(#bSomali)" marker-end="url(#bSomali)"/>
<rect x="378.6" y="15.3" width="75.7" height="94.8" fill="#fff" stroke="#6e6e6e" stroke-width="0.8"/>
<polyline points="383,24.7 395.9,24.7 409,24.7" fill="none" stroke="#2d5f8f" stroke-width="0.75" marker-mid="url(#lArab)"/><text x="411.9" y="27.7" font-size="8.2" fill="#262626">Arab</text><polyline points="383,33.18 395.9,33.18 409,33.18" fill="none" stroke="#ec3338" stroke-width="0.75" marker-mid="url(#lNubian)"/><text x="411.9" y="36.18" font-size="8.2" fill="#262626">Nubian</text><polyline points="383,41.66 395.9,41.66 409,41.66" fill="none" stroke="#5bbd2f" stroke-width="0.75" marker-mid="url(#lBeja)"/><text x="411.9" y="44.66" font-size="8.2" fill="#262626">Beja</text><polyline points="383,50.14 395.9,50.14 409,50.14" fill="none" stroke="#a992bd" stroke-width="0.75" marker-mid="url(#lNilotic)"/><text x="411.9" y="53.14" font-size="8.2" fill="#262626">Nilotic</text><polyline points="383,58.62 395.9,58.62 409,58.62" fill="none" stroke="#86d6d6" stroke-width="0.75" marker-mid="url(#lNuba)"/><text x="411.9" y="61.62" font-size="8.2" fill="#262626">Nuba</text><polyline points="383,67.1 395.9,67.1 409,67.1" fill="none" stroke="#ffff00" stroke-width="0.75" marker-mid="url(#lZagawa)"/><text x="411.9" y="70.1" font-size="8.2" fill="#262626">Zagawa</text><polyline points="383,75.58 395.9,75.58 409,75.58" fill="none" stroke="#8c8c8c" stroke-width="0.75" marker-mid="url(#lCopt)"/><text x="411.9" y="78.58" font-size="8.2" fill="#262626">Copt</text><polyline points="383,84.06 395.9,84.06 409,84.06" fill="none" stroke="#92f092" stroke-width="0.75" marker-mid="url(#lKaramoja)"/><text x="411.9" y="87.06" font-size="8.2" fill="#262626">Karamoja</text><polyline points="383,92.54 395.9,92.54 409,92.54" fill="none" stroke="#ee9cd6" stroke-width="0.75" marker-mid="url(#lEgyptian)"/><text x="411.9" y="95.54" font-size="8.2" fill="#262626">Egyptian</text><polyline points="383,101.02 395.9,101.02 409,101.02" fill="none" stroke="#4d3d3f" stroke-width="0.75" marker-mid="url(#lSomali)"/><text x="411.9" y="104.02" font-size="8.2" fill="#262626">Somali</text>
<rect x="378.6" y="15.3" width="301.9" height="237.2" fill="none" stroke="#6e6e6e" stroke-width="0.9"/>
<path d="M378.6,252.5v-2.5M378.6,15.3v2.5M428.92,252.5v-2.5M428.92,15.3v2.5M479.23,252.5v-2.5M479.23,15.3v2.5M529.55,252.5v-2.5M529.55,15.3v2.5M579.87,252.5v-2.5M579.87,15.3v2.5M630.18,252.5v-2.5M630.18,15.3v2.5M680.5,252.5v-2.5M680.5,15.3v2.5M378.6,252.5h2.5M680.5,252.5h-2.5M378.6,226.14h2.5M680.5,226.14h-2.5M378.6,199.79h2.5M680.5,199.79h-2.5M378.6,173.43h2.5M680.5,173.43h-2.5M378.6,147.08h2.5M680.5,147.08h-2.5M378.6,120.72h2.5M680.5,120.72h-2.5M378.6,94.37h2.5M680.5,94.37h-2.5M378.6,68.01h2.5M680.5,68.01h-2.5M378.6,41.66h2.5M680.5,41.66h-2.5M378.6,15.3h2.5M680.5,15.3h-2.5" stroke="#6e6e6e" stroke-width="0.8" fill="none"/>
<g fill="#262626"><text transform="translate(378.6,264) scale(0.93,1)" text-anchor="middle" font-size="8.4">0</text><text transform="translate(428.92,264) scale(0.93,1)" text-anchor="middle" font-size="8.4">10</text><text transform="translate(479.23,264) scale(0.93,1)" text-anchor="middle" font-size="8.4">20</text><text transform="translate(529.55,264) scale(0.93,1)" text-anchor="middle" font-size="8.4">30</text><text transform="translate(579.87,264) scale(0.93,1)" text-anchor="middle" font-size="8.4">40</text><text transform="translate(630.18,264) scale(0.93,1)" text-anchor="middle" font-size="8.4">50</text><text transform="translate(680.5,264) scale(0.93,1)" text-anchor="middle" font-size="8.4">60</text><text transform="translate(374.2,256.1) scale(0.93,1)" text-anchor="end" font-size="8.4">0</text><text transform="translate(374.2,229.74) scale(0.93,1)" text-anchor="end" font-size="8.4">0.05</text><text transform="translate(374.2,203.39) scale(0.93,1)" text-anchor="end" font-size="8.4">0.1</text><text transform="translate(374.2,177.03) scale(0.93,1)" text-anchor="end" font-size="8.4">0.15</text><text transform="translate(374.2,150.68) scale(0.93,1)" text-anchor="end" font-size="8.4">0.2</text><text transform="translate(374.2,124.32) scale(0.93,1)" text-anchor="end" font-size="8.4">0.25</text><text transform="translate(374.2,97.97) scale(0.93,1)" text-anchor="end" font-size="8.4">0.3</text><text transform="translate(374.2,71.61) scale(0.93,1)" text-anchor="end" font-size="8.4">0.35</text><text transform="translate(374.2,45.26) scale(0.93,1)" text-anchor="end" font-size="8.4">0.4</text><text transform="translate(374.2,18.9) scale(0.93,1)" text-anchor="end" font-size="8.4">0.45</text></g>
<text x="524.7" y="274" font-size="8.2" text-anchor="middle" textLength="110.5" lengthAdjust="spacingAndGlyphs" fill="#262626">Sample size (in chromosomes)</text>
<text transform="translate(353,137.6) rotate(-90)" font-size="8.4" text-anchor="middle" textLength="110" lengthAdjust="spacingAndGlyphs" fill="#262626">Mean number of private alleles</text>
<text x="341.6" y="10.1" font-size="10.5" fill="#111" stroke="#111" stroke-width="0.3">B</text></svg>
</body></html>
